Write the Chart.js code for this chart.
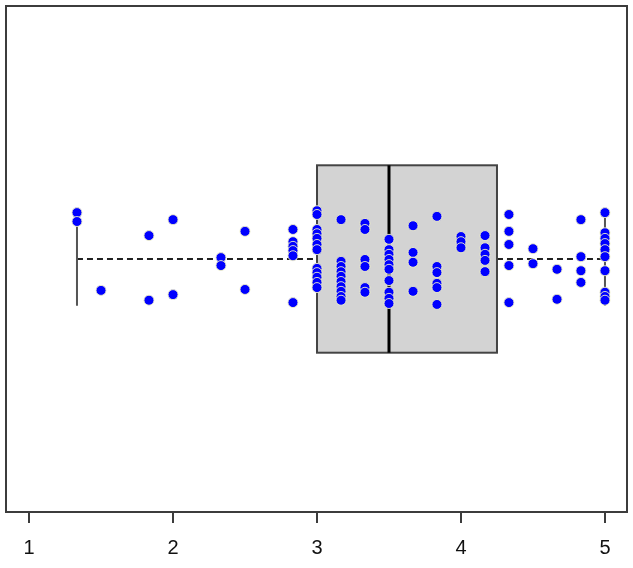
<!DOCTYPE html>
<html>
<head>
<meta charset="utf-8">
<script src="https://cdn.jsdelivr.net/npm/chart.js@4/dist/chart.umd.min.js"></script>
<style>
  html, body { margin: 0; padding: 0; background: #fff; }
  #wrap { width: 633px; height: 568px; }
</style>
</head>
<body>
<div id="wrap"><canvas id="chart"></canvas></div>
<script>
// observed scores (x) and vertical jitter (y, box centre = 0)
const scores = [
  1.333, 1.333,
  1.5,
  1.833, 1.833,
  2, 2,
  2.333, 2.333,
  2.5, 2.5,
  2.833, 2.833, 2.833, 2.833, 2.833, 2.833,
  3, 3, 3, 3, 3, 3, 3, 3, 3, 3, 3, 3,
  3.167, 3.167, 3.167, 3.167, 3.167, 3.167, 3.167, 3.167, 3.167, 3.167,
  3.333, 3.333, 3.333, 3.333, 3.333, 3.333,
  3.5, 3.5, 3.5, 3.5, 3.5, 3.5, 3.5, 3.5, 3.5, 3.5,
  3.667, 3.667, 3.667, 3.667,
  3.833, 3.833, 3.833, 3.833, 3.833, 3.833,
  4, 4, 4,
  4.167, 4.167, 4.167, 4.167, 4.167,
  4.333, 4.333, 4.333, 4.333, 4.333,
  4.5, 4.5,
  4.667, 4.667,
  4.833, 4.833, 4.833, 4.833,
  5, 5, 5, 5, 5, 5, 5, 5, 5, 5
];
const jitter = [
  0.099, 0.080,
  -0.067,
  0.050, -0.088,
  0.084, -0.076,
  0.003, -0.014,
  0.059, -0.065,
  0.063, 0.037, 0.027, 0.018, 0.007, -0.093,
  0.103, 0.095, 0.063, 0.054, 0.044, 0.031, 0.020, -0.020, -0.029, -0.039, -0.050, -0.061,
  0.084, -0.005, -0.016, -0.027, -0.037, -0.048, -0.059, -0.069, -0.080, -0.088,
  0.076, 0.063, -0.001, -0.016, -0.061, -0.071,
  0.042, 0.020, 0.010, -0.001, -0.012, -0.022, -0.046, -0.071, -0.084, -0.095,
  0.071, 0.014, -0.007, -0.069,
  0.091, -0.016, -0.029, -0.052, -0.061, -0.097,
  0.048, 0.037, 0.024,
  0.050, 0.024, 0.010, -0.003, -0.027,
  0.095, 0.059, 0.031, -0.014, -0.093,
  0.022, -0.010,
  -0.022, -0.086,
  0.084, 0.005, -0.025, -0.050,
  0.099, 0.056, 0.044, 0.033, 0.020, 0.005, -0.025, -0.071, -0.080, -0.088
];

// five-number summary: lower whisker, Q1, median, Q3, upper whisker
const boxStats = [1.333, 3, 3.5, 4.25, 5];
const boxHalf = 0.2;
const stapleHalf = 0.1;

const tickValues = [1, 2, 3, 4, 5];

const boxPlugin = {
  id: 'boxplot',
  beforeDatasetsDraw(chart) {
    const { ctx, scales: { x, y } } = chart;
    const [lo, q1, med, q3, hi] = boxStats;
    const yc = y.getPixelForValue(0);
    const yt = y.getPixelForValue(boxHalf);
    const yb = y.getPixelForValue(-boxHalf);
    const st = y.getPixelForValue(stapleHalf);
    const sb = y.getPixelForValue(-stapleHalf);
    ctx.save();

    // whiskers
    ctx.strokeStyle = '#222';
    ctx.lineWidth = 2;
    ctx.setLineDash([6, 4]);
    ctx.beginPath();
    ctx.moveTo(x.getPixelForValue(lo), yc);
    ctx.lineTo(x.getPixelForValue(q1), yc);
    ctx.moveTo(x.getPixelForValue(q3), yc);
    ctx.lineTo(x.getPixelForValue(hi), yc);
    ctx.stroke();

    // staples
    ctx.setLineDash([]);
    ctx.strokeStyle = '#555';
    ctx.lineWidth = 2;
    ctx.beginPath();
    ctx.moveTo(x.getPixelForValue(lo), st);
    ctx.lineTo(x.getPixelForValue(lo), sb);
    ctx.moveTo(x.getPixelForValue(hi), st);
    ctx.lineTo(x.getPixelForValue(hi), sb);
    ctx.stroke();

    // box
    const x1 = x.getPixelForValue(q1);
    const x3 = x.getPixelForValue(q3);
    ctx.fillStyle = '#d3d3d3';
    ctx.fillRect(x1, yt, x3 - x1, yb - yt);
    ctx.strokeStyle = '#444';
    ctx.lineWidth = 2;
    ctx.strokeRect(x1, yt, x3 - x1, yb - yt);

    // median
    ctx.strokeStyle = '#000';
    ctx.lineWidth = 3;
    ctx.beginPath();
    ctx.moveTo(x.getPixelForValue(med), yt);
    ctx.lineTo(x.getPixelForValue(med), yb);
    ctx.stroke();
    ctx.restore();
  },
  afterDraw(chart) {
    const { ctx, chartArea: a } = chart;
    ctx.save();
    ctx.strokeStyle = '#3c3c3c';
    ctx.lineWidth = 2;
    ctx.strokeRect(a.left, a.top, a.right - a.left, a.bottom - a.top);
    ctx.restore();
  }
};

new Chart(document.getElementById('chart'), {
  type: 'scatter',
  data: {
    datasets: [{
      data: scores.map((s, i) => ({ x: s, y: jitter[i] })),
      backgroundColor: '#0000ff',
      borderColor: 'rgba(240,240,200,0.9)',
      borderWidth: 1,
      pointRadius: 5,
      pointHoverRadius: 5
    }]
  },
  options: {
    responsive: true,
    maintainAspectRatio: false,
    animation: false,
    layout: { padding: { left: 4, right: 6, top: 5, bottom: 0 } },
    plugins: { legend: { display: false }, tooltip: { enabled: false } },
    scales: {
      x: {
        type: 'linear',
        min: 0.84,
        max: 5.153,
        afterBuildTicks: scale => { scale.ticks = tickValues.map(v => ({ value: v })); },
        afterFit: scale => { scale.height = 56; },
        border: { display: false },
        grid: {
          drawOnChartArea: false,
          drawTicks: true,
          tickLength: 11,
          color: '#3c3c3c',
          lineWidth: 2
        },
        ticks: {
          color: '#111',
          padding: 13,
          font: { family: 'Liberation Sans, Arial, sans-serif', size: 20 }
        }
      },
      y: {
        type: 'linear',
        min: -0.54,
        max: 0.54,
        display: false
      }
    }
  },
  plugins: [boxPlugin]
});
</script>
</body>
</html>
